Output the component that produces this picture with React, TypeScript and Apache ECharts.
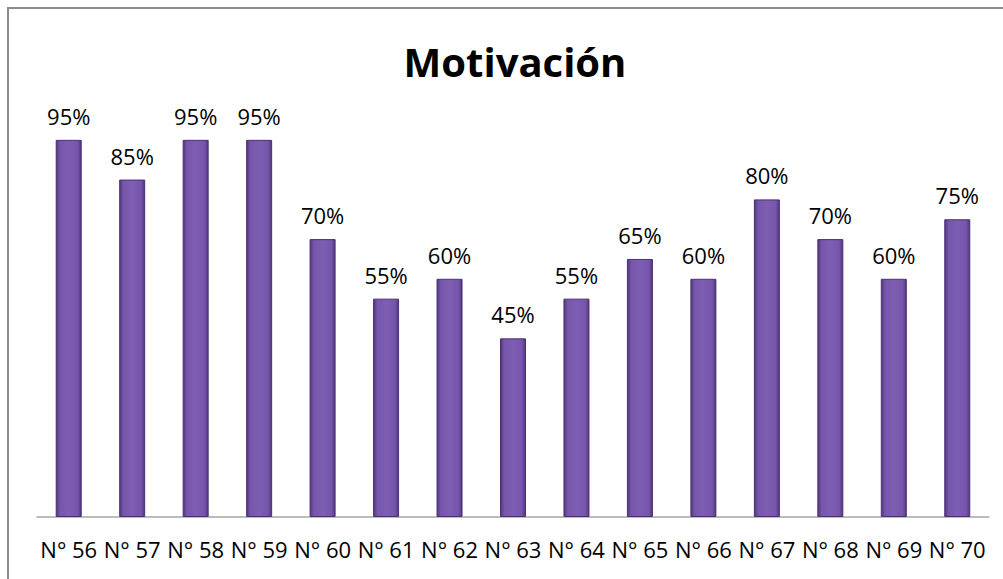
import React, { useEffect, useRef } from "react";
import * as echarts from "echarts";

const categories = ["N° 56", "N° 57", "N° 58", "N° 59", "N° 60", "N° 61", "N° 62", "N° 63", "N° 64", "N° 65", "N° 66", "N° 67", "N° 68", "N° 69", "N° 70"];
const values = [95, 85, 95, 95, 70, 55, 60, 45, 55, 65, 60, 80, 70, 60, 75];

export default function App() {
  const ref = useRef<HTMLDivElement>(null);
  useEffect(() => {
    const chart = echarts.init(ref.current!, undefined, { renderer: "svg" });
    chart.setOption({
      animation: false,
      backgroundColor: "#ffffff",
      graphic: [
        {
          type: "rect",
          shape: { x: 8, y: 8, width: 1100, height: 700 },
          style: { fill: "none", stroke: "#8c8c8c", lineWidth: 2 },
          silent: true,
        },
        {
          type: "text",
          x: 515,
          y: 61,
          style: {
            text: "Motivación",
            font: "bold 40px 'Open Sans'",
            fill: "#000",
            textAlign: "center",
            textVerticalAlign: "middle",
          },
        },
      ],
      grid: { left: 37, right: 14, top: 120, bottom: 62, containLabel: false },
      xAxis: {
        type: "category",
        data: categories,
        axisLine: { lineStyle: { color: "#a6a6a6", width: 1.5 } },
        axisTick: { show: false },
        axisLabel: { color: "#000", fontFamily: "Open Sans", fontSize: 22, margin: 21, interval: 0 },
      },
      yAxis: {
        type: "value",
        min: 0,
        max: 100,
        show: false,
        splitLine: { show: false },
      },
      series: [
        {
          type: "bar",
          data: values,
          barWidth: 26,
          itemStyle: {
            color: new echarts.graphic.LinearGradient(0, 0, 1, 0, [
              { offset: 0, color: "#52367f" },
              { offset: 0.15, color: "#7656ab" },
              { offset: 0.5, color: "#7d5eb3" },
              { offset: 0.85, color: "#7656ab" },
              { offset: 1, color: "#52367f" },
            ]),
            borderColor: "#4a3174",
            borderWidth: 1,
          },
          label: {
            show: true,
            position: "top",
            distance: 13,
            formatter: "{c}%",
            color: "#000",
            fontFamily: "Open Sans",
            fontSize: 22,
          },
        },
      ],
    });
    return () => chart.dispose();
  }, []);
  return <div ref={ref} style={{ position: "fixed", left: 0, top: 0, width: 1003, height: 579 }} />;
}
